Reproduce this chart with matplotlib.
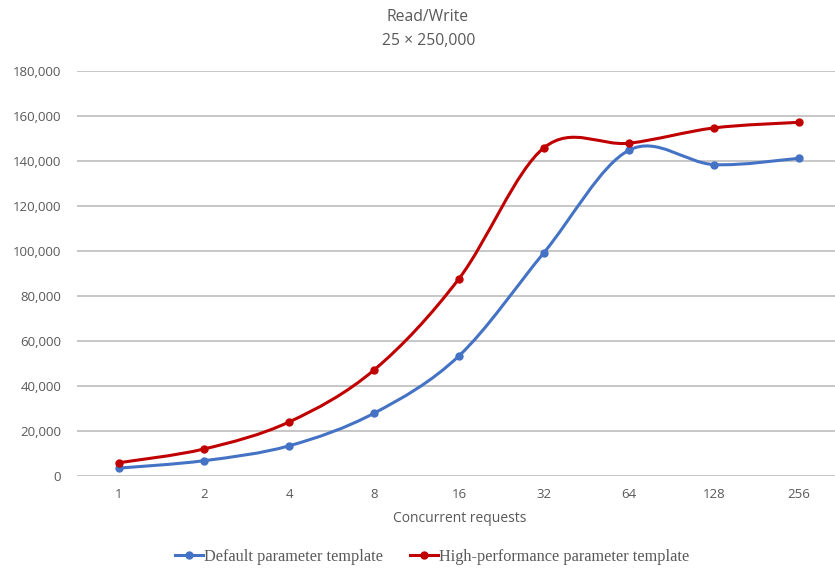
import matplotlib
matplotlib.use("Agg")
import matplotlib.pyplot as plt
from matplotlib.path import Path
from matplotlib.patches import PathPatch
from matplotlib.lines import Line2D
from matplotlib.ticker import FuncFormatter

categories = ["1", "2", "4", "8", "16", "32", "64", "128", "256"]
default_vals = [3500, 6800, 13400, 27900, 53400, 99300, 144800, 138400, 141200]
highperf_vals = [5900, 12000, 24000, 47100, 87700, 145900, 147900, 154700, 157200]

title_line1 = "Read/Write"
title_line2 = "25 × 250,000"
xlabel = "Concurrent requests"
series_names = ["Default parameter template", "High-performance parameter template"]
colors = ["#4472C4", "#C00000"]

plt.rcParams['font.family'] = ['Open Sans', 'DejaVu Sans']

fig = plt.figure(figsize=(8.35, 5.68), dpi=100)
W, H = 835, 568
left_px, right_px, top_px, bot_px = 76.5, 835, 71, 476
ax = fig.add_axes([left_px / W, 1 - bot_px / H, (right_px - left_px) / W, (bot_px - top_px) / H])

n = len(categories)
xs = list(range(n))
spacing = 85.0
ax.set_xlim(-0.5, -0.5 + (right_px - left_px) / spacing)
ax.set_ylim(0, 180000)
ax.set_yticks(range(0, 180001, 20000))
ax.yaxis.set_major_formatter(FuncFormatter(lambda v, p: f"{int(v):,}"))
ax.set_xticks(xs)
ax.set_xticklabels(categories)
ax.tick_params(axis='both', length=0, labelsize=9.5, labelcolor="#595959")
ax.tick_params(axis='y', pad=11)
ax.tick_params(axis='x', pad=9)
for s in ax.spines.values():
    s.set_visible(False)
ax.grid(axis='y', color="#B8B8B8", linewidth=1.1)
ax.set_axisbelow(True)


def smooth_path(x, y):
    pts = list(zip(x, y))
    verts = [pts[0]]
    codes = [Path.MOVETO]
    m = len(pts)
    for i in range(m - 1):
        p0 = pts[i - 1] if i > 0 else pts[i]
        p1 = pts[i]
        p2 = pts[i + 1]
        p3 = pts[i + 2] if i + 2 < m else pts[i + 1]
        c1 = (p1[0] + (p2[0] - p0[0]) / 6.0, p1[1] + (p2[1] - p0[1]) / 6.0)
        c2 = (p2[0] - (p3[0] - p1[0]) / 6.0, p2[1] - (p3[1] - p1[1]) / 6.0)
        verts += [c1, c2, p2]
        codes += [Path.CURVE4] * 3
    return Path(verts, codes)


handles = []
for vals, col, name in zip([default_vals, highperf_vals], colors, series_names):
    patch = PathPatch(smooth_path(xs, vals), facecolor='none', edgecolor=col,
                      linewidth=2.2, capstyle='round', joinstyle='round', zorder=3)
    ax.add_patch(patch)
    ax.plot(xs, vals, linestyle='none', marker='o', markersize=5, color=col, zorder=4)
    handles.append(Line2D([0], [0], color=col, linewidth=2.2, marker='o', markersize=5, label=name))

fig.text(428 / W, 1 - 17 / H, title_line1, ha='center', va='center',
         fontsize=11.3, color="#595959")
fig.text(429 / W, 1 - 41 / H, title_line2, ha='center', va='center',
         fontsize=11.3, color="#595959")
fig.text(460 / W, 1 - 519 / H, xlabel, ha='center', va='center', fontsize=10, color="#595959")

leg = fig.legend(handles=handles, loc='center', bbox_to_anchor=(432 / W, 1 - 557 / H), ncol=2,
                 frameon=False, prop={'family': 'Liberation Serif', 'size': 11.7},
                 handlelength=1.7, handletextpad=0.05, columnspacing=1.7)
for t in leg.get_texts():
    t.set_color("#595959")

fig.savefig("out.png", dpi=100)
